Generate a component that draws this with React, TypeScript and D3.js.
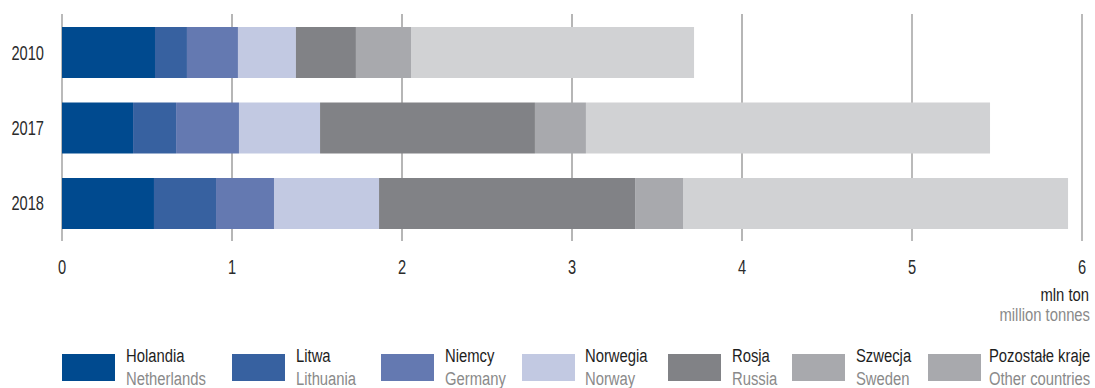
import React from "react";
import * as d3 from "d3";

const years = ["2010", "2017", "2018"];
const seriesPl = ["Holandia", "Litwa", "Niemcy", "Norwegia", "Rosja", "Szwecja", "Pozostałe kraje"];
const seriesEn = ["Netherlands", "Lithuania", "Germany", "Norway", "Russia", "Sweden", "Other countries"];
const values2010 = [0.547, 0.188, 0.3, 0.341, 0.353, 0.324, 1.665];
const values2017 = [0.418, 0.253, 0.37, 0.477, 1.264, 0.3, 2.377];
const values2018 = [0.541, 0.365, 0.341, 0.618, 1.506, 0.282, 2.265];
const xTicks = [0, 1, 2, 3, 4, 5, 6];
const barColors = ["#004a8f", "#3761a0", "#6479b1", "#c2c9e2", "#818286", "#a8a9ad", "#d1d2d4"];
const legendColors = ["#004a8f", "#3761a0", "#6479b1", "#c2c9e2", "#818286", "#a8a9ad", "#a8a9ad"];
const legendX = [62, 232, 381, 522, 668, 792, 928];
const legendTextX = [126, 296, 445, 585, 732, 856, 989];

const FONT = "'Liberation Sans', Arial, sans-serif";

function NText(props: { x: number; y: number; size: number; fill: string; anchor?: string; sx?: number; children: any }) {
  const sx = props.sx ?? 0.78;
  return (
    <text
      transform={`translate(${props.x},${props.y}) scale(${sx},1)`}
      x={0}
      y={0}
      fontSize={props.size}
      fill={props.fill}
      textAnchor={props.anchor ?? "start"}
    >
      {props.children}
    </text>
  );
}

export default function App() {
  const W = 1095;
  const H = 388;
  const x = d3.scaleLinear().domain([0, 6]).range([62, 1082]);
  const y = d3.scaleBand<string>().domain(years).range([27, 229]).paddingInner(0.3245).paddingOuter(0);
  const table = [values2010, values2017, values2018];
  const data = years.map((yr, i) => {
    const row: any = { year: yr };
    seriesPl.forEach((s, j) => (row[s] = table[i][j]));
    return row;
  });
  const stack = d3.stack<any>().keys(seriesPl)(data);

  return (
    <svg width={W} height={H} style={{ position: "absolute", left: 0, top: 0, fontFamily: FONT }}>
      {xTicks.map((t) => (
        <line key={"g" + t} x1={x(t)} x2={x(t)} y1={14} y2={241} stroke={t === 0 || t >= 5 ? "#a9a9a9" : "#7a7a7a"} strokeWidth={t === 0 || t >= 5 ? 1.6 : 1.1} />
      ))}
      {stack.map((layer, j) =>
        layer.map((d, i) => (
          <rect key={j + "-" + i} x={x(d[0])} y={y(years[i])} width={x(d[1]) - x(d[0])} height={y.bandwidth()} fill={barColors[j]} />
        ))
      )}
      {years.map((yr) => (
        <NText key={yr} x={44} y={(y(yr) as number) + y.bandwidth() / 2 + 7} anchor="end" size={19.5} sx={0.75} fill="#2b2b2b">
          {yr}
        </NText>
      ))}
      {xTicks.map((t) => (
        <NText key={"t" + t} x={x(t)} y={274} anchor="middle" size={19.5} sx={0.75} fill="#2b2b2b">
          {t}
        </NText>
      ))}
      <NText x={1089} y={301} anchor="end" size={19} fill="#1e1e1e">mln ton</NText>
      <NText x={1090} y={321} anchor="end" size={19} fill="#8a8a8a">million tonnes</NText>
      {seriesPl.map((s, j) => (
        <g key={"l" + j}>
          <rect x={legendX[j]} y={354} width={53} height={27} fill={legendColors[j]} />
          <NText x={legendTextX[j]} y={362} size={19} fill="#1e1e1e">{s}</NText>
          <NText x={legendTextX[j]} y={385} size={19} fill="#8a8a8a">{seriesEn[j]}</NText>
        </g>
      ))}
    </svg>
  );
}
